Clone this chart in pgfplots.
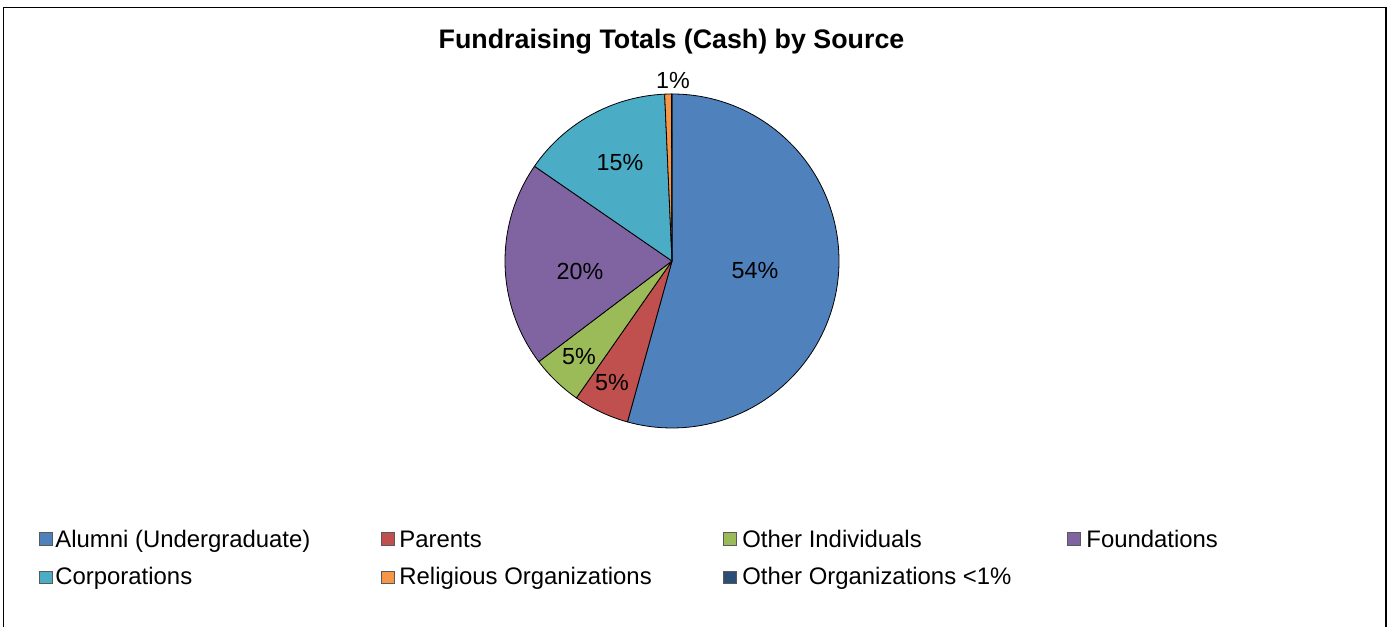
\documentclass[border=0pt]{standalone}
\usepackage{pgfplots}
\pgfplotsset{compat=1.18}
\usepackage{pgfplotstable}
\usepackage{fontspec}
\setmainfont{Liberation Sans}

\definecolor{c0}{HTML}{4F81BD}
\definecolor{c1}{HTML}{C0504D}
\definecolor{c2}{HTML}{9BBB59}
\definecolor{c3}{HTML}{8064A2}
\definecolor{c4}{HTML}{4BACC6}
\definecolor{c5}{HTML}{F79646}
\definecolor{c6}{HTML}{2C4D75}

\pgfplotstableread{
idx value
0 54.3
1 5.4
2 5.0
3 19.9
4 14.7
5 0.65
6 0.05
}\piedata

\begin{document}
\begin{tikzpicture}
\begin{axis}[
  width=694.5pt, height=313.5pt, scale only axis,
  xmin=0, xmax=1389, ymin=0, ymax=627,
  hide axis, clip=false,
]
\path (axis cs:0,0) rectangle (axis cs:1389,627);
\def\cum{0}
\pgfplotsforeachungrouped \i in {0,...,6}{%
  \pgfplotstablegetelem{\i}{value}\of\piedata
  \let\val\pgfplotsretval
  \pgfmathsetmacro\aA{90-3.6*\cum}%
  \pgfmathsetmacro\aB{90-3.6*(\cum+\val)}%
  \pgfmathsetmacro\sx{672+167*cos(\aA)}%
  \pgfmathsetmacro\sy{366+167*sin(\aA)}%
  \edef\temp{\noexpand\filldraw[fill=c\i, draw=black, line width=0.4pt, line join=round] (axis cs:672,366) -- (axis cs:\sx,\sy) arc[start angle=\aA, end angle=\aB, radius=83.5pt] -- cycle;}%
  \temp
  \pgfmathsetmacro\cum{\cum+\val}%
}

% data labels
\tikzset{lbl/.style={anchor=base, inner sep=0pt, font=\fontsize{11.65}{14}\selectfont}}
\node[lbl] at (axis cs:755,348) {54\%};
\node[lbl] at (axis cs:612,236) {5\%};
\node[lbl] at (axis cs:579,262) {5\%};
\node[lbl] at (axis cs:580,347) {20\%};
\node[lbl] at (axis cs:620,456) {15\%};
\node[lbl] at (axis cs:673,538) {1\%};

% title
\node[anchor=base, inner sep=0pt, font=\fontsize{13.4}{16}\selectfont\bfseries] at (axis cs:671.5,578.7) {Fundraising Totals (Cash) by Source};

% legend
\tikzset{sq/.style={draw=black!65, line width=0.4pt, minimum size=6.2pt, inner sep=0pt},
         lt/.style={anchor=base west, inner sep=0pt, font=\fontsize{11.95}{14}\selectfont}}
\node[sq, fill=c0] at (axis cs:46,88) {};
\node[lt] at (axis cs:55,79.7) {Alumni (Undergraduate)};
\node[sq, fill=c1] at (axis cs:388,88) {};
\node[lt] at (axis cs:399,79.7) {Parents};
\node[sq, fill=c2] at (axis cs:730,88) {};
\node[lt] at (axis cs:742,79.7) {Other Individuals};
\node[sq, fill=c3] at (axis cs:1074,88) {};
\node[lt] at (axis cs:1086,79.7) {Foundations};
\node[sq, fill=c4] at (axis cs:46,49.5) {};
\node[lt] at (axis cs:55,42) {Corporations};
\node[sq, fill=c5] at (axis cs:388,49.5) {};
\node[lt] at (axis cs:399,42) {Religious Organizations};
\node[sq, fill=c6] at (axis cs:730,49.5) {};
\node[lt] at (axis cs:742,42) {Other Organizations <1\%};

% frame
\draw[line width=0.75pt] (axis cs:3.5,0) -- (axis cs:3.5,619.5) -- (axis cs:1386,619.5) -- (axis cs:1386,0);
\end{axis}
\end{tikzpicture}
\end{document}
